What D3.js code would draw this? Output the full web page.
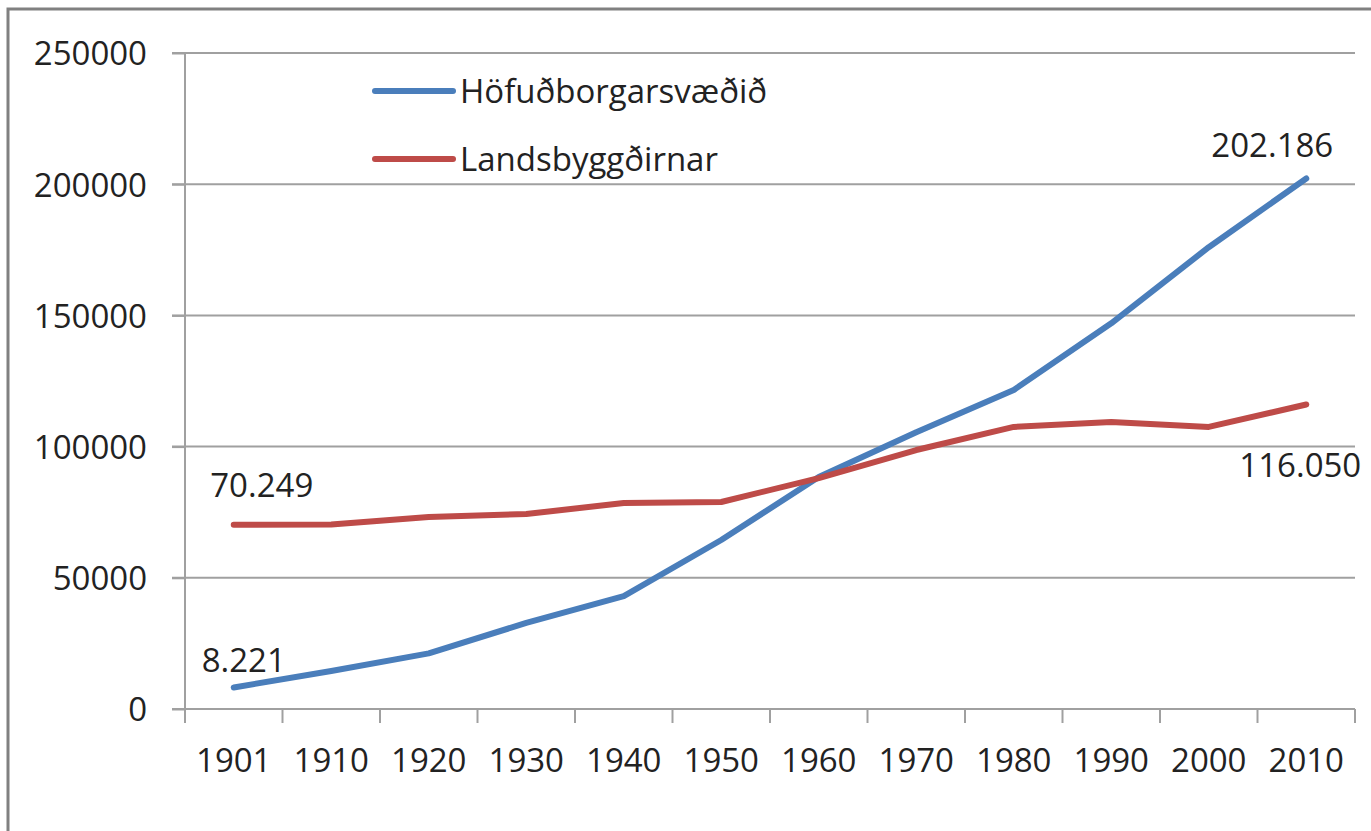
<!DOCTYPE html>
<html>
<head>
<meta charset="utf-8">
<script src="https://cdn.jsdelivr.net/npm/d3@7"></script>
<style>
  body { margin: 0; background: #fff; }
  svg { display: block; }
  text { font-family: "Open Sans", sans-serif; fill: #222; }
</style>
</head>
<body>
<div id="chart"></div>
<script>
// years on the category axis
var years = ["1901","1910","1920","1930","1940","1950","1960","1970","1980","1990","2000","2010"]
// capital area population
var capital = [8221, 14500, 21200, 32800, 43000, 64400, 88400, 105500, 121600, 147000, 176000, 202186]
// rest of the country
var rural = [70249, 70300, 73200, 74300, 78500, 78900, 88000, 98700, 107500, 109400, 107500, 116050]
var yTicks = [0, 50000, 100000, 150000, 200000, 250000]
var seriesNames = ["Höfuðborgarsvæðið", "Landsbyggðirnar"]
var seriesColors = ["#4a7ebb", "#be4b48"]

var W = 1371, H = 831
var fontSize = 33

var svg = d3.select("#chart").append("svg")
  .attr("width", W).attr("height", H)

// outer frame (only left and top edges visible)
svg.append("rect")
  .attr("x", 8).attr("y", 9)
  .attr("width", W + 20).attr("height", H + 20)
  .attr("fill", "none")
  .attr("stroke", "#808080")
  .attr("stroke-width", 3)

var x = d3.scaleBand().domain(years).range([185, 1355]).padding(0)
var y = d3.scaleLinear().domain([0, 250000]).range([709, 53])
var cx = function(d){ return x(d) + x.bandwidth()/2 }

// gridlines
svg.append("g").selectAll("line").data(yTicks.slice(1)).enter().append("line")
  .attr("x1", 172).attr("x2", 1355)
  .attr("y1", function(d){ return y(d) }).attr("y2", function(d){ return y(d) })
  .attr("stroke", "#a0a0a0").attr("stroke-width", 2)

// y axis
var yAxis = svg.append("g")
  .attr("transform", "translate(185,0)")
  .call(d3.axisLeft(y).tickValues(yTicks).tickSize(13).tickPadding(25).tickFormat(d3.format("d")))
yAxis.select(".domain").remove()
yAxis.selectAll(".tick line").attr("stroke", "#a0a0a0").attr("stroke-width", 2)
yAxis.selectAll("text").style("font-size", fontSize + "px").attr("dy", "0.36em")

svg.append("line")
  .attr("x1", 185).attr("x2", 185).attr("y1", y(250000)).attr("y2", 723)
  .attr("stroke", "#a0a0a0").attr("stroke-width", 2)

// x axis
var xAxis = svg.append("g")
  .attr("transform", "translate(0,709)")
  .call(d3.axisBottom(x).tickSize(0).tickPadding(40))
xAxis.select(".domain").remove()
xAxis.selectAll("text").style("font-size", fontSize + "px")

svg.append("line")
  .attr("x1", 172).attr("x2", 1355).attr("y1", 709).attr("y2", 709)
  .attr("stroke", "#a0a0a0").attr("stroke-width", 2)
var edges = years.map(function(d){ return x(d) }).concat([x.range()[1]])
svg.append("g").selectAll("line").data(edges).enter().append("line")
  .attr("x1", function(d){ return d }).attr("x2", function(d){ return d })
  .attr("y1", 709).attr("y2", 723)
  .attr("stroke", "#a0a0a0").attr("stroke-width", 2)

// series lines
var line = d3.line()
  .x(function(d, i){ return cx(years[i]) })
  .y(function(d){ return y(d) })

;[capital, rural].forEach(function(s, i){
  svg.append("path")
    .datum(s)
    .attr("d", line)
    .attr("fill", "none")
    .attr("stroke", seriesColors[i])
    .attr("stroke-width", 6)
    .attr("stroke-linejoin", "round")
    .attr("stroke-linecap", "round")
})

// data labels at first and last points
var fmt = function(v){ return d3.format(",")(v).replace(/,/g, ".") }
var labels = [
  {s: capital, i: 0, dx: 10, dy: -15, anchor: "middle"},
  {s: rural, i: 0, dx: 28, dy: -28, anchor: "middle"},
  {s: capital, i: 11, dx: 27, dy: -21, anchor: "end"},
  {s: rural, i: 11, dx: 55, dy: 73, anchor: "end"}
]
svg.append("g").selectAll("text").data(labels).enter().append("text")
  .attr("x", function(d){ return cx(years[d.i]) + d.dx })
  .attr("y", function(d){ return y(d.s[d.i]) + d.dy })
  .attr("text-anchor", function(d){ return d.anchor })
  .style("font-size", fontSize + "px")
  .text(function(d){ return fmt(d.s[d.i]) })

// legend
var legend = svg.append("g").selectAll("g").data(seriesNames).enter().append("g")
  .attr("transform", function(d, i){ return "translate(375," + (91 + i*68) + ")" })
legend.append("line")
  .attr("x1", 0).attr("x2", 78)
  .attr("stroke", function(d, i){ return seriesColors[i] })
  .attr("stroke-width", 6).attr("stroke-linecap", "round")
legend.append("text")
  .attr("x", 85).attr("dy", "0.36em")
  .style("font-size", fontSize + "px")
  .text(function(d){ return d })
</script>
</body>
</html>
